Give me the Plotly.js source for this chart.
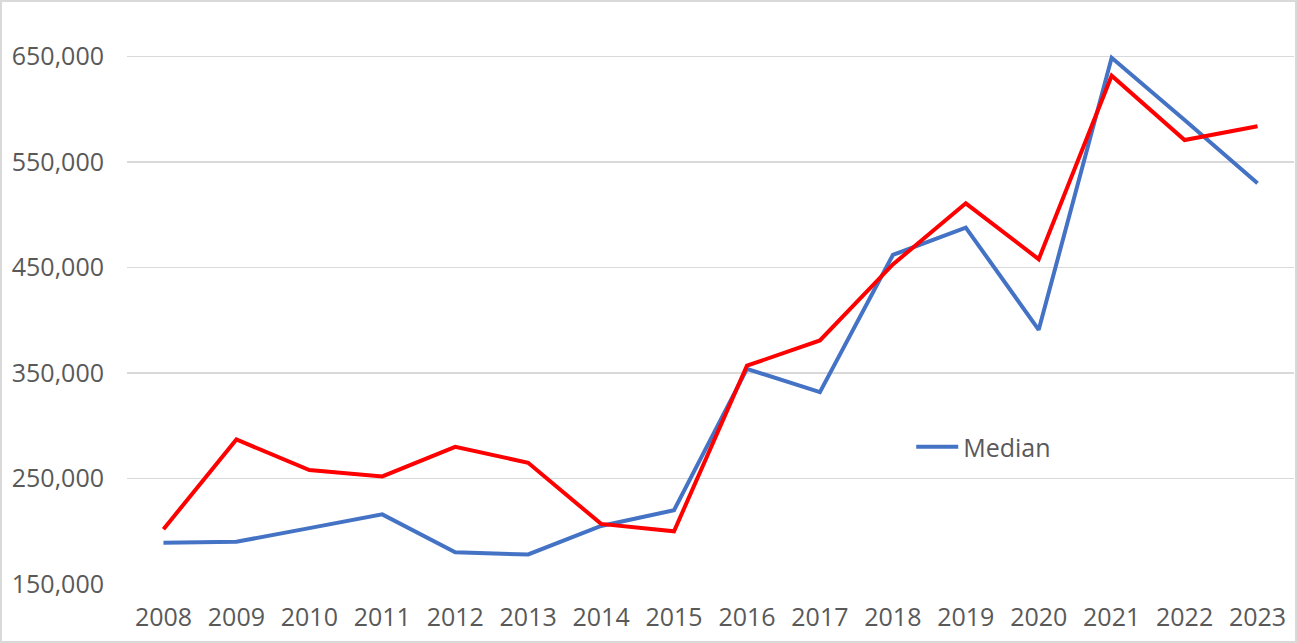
<!DOCTYPE html>
<html>
<head>
<meta charset="utf-8">
<script src="https://cdn.plot.ly/plotly-3.0.1.min.js"></script>
<style>
  html, body { margin: 0; padding: 0; background: #ffffff; }
  #wrap { position: relative; width: 1297px; height: 643px; }
  #chart { width: 1297px; height: 643px; }
  #frame { position: absolute; left: 0; top: 0; width: 1297px; height: 643px; box-sizing: border-box; border: 2px solid #d9d9d9; pointer-events: none; }
</style>
</head>
<body>
<div id="wrap"><div id="chart"></div><div id="frame"></div></div>
<script>
const years = ['2008','2009','2010','2011','2012','2013','2014','2015','2016','2017','2018','2019','2020','2021','2022','2023'];
const median = [189000, 190000, 203000, 216000, 180000, 178000, 205000, 220000, 354000, 332000, 462000, 488000, 391000, 649000, 590000, 530000];
const second = [202000, 287000, 258000, 252000, 280000, 265000, 207000, 200000, 357000, 381000, 453000, 511000, 458000, 632000, 571000, 584000];
const tickVals = [150000, 250000, 350000, 450000, 550000, 650000];

const traces = [
  { x: years, y: median, type: 'scatter', mode: 'lines', name: 'Median',
    line: { color: '#4472C4', width: 4 } },
  { x: years, y: second, type: 'scatter', mode: 'lines', name: 'Series 2', showlegend: false,
    line: { color: '#FF0000', width: 4 } }
];

const layout = {
  width: 1297, height: 643,
  margin: { l: 127, r: 3, t: 4, b: 59 },
  paper_bgcolor: '#ffffff', plot_bgcolor: '#ffffff',
  font: { family: '"Open Sans", sans-serif', size: 25, color: '#595959' },
  showlegend: true,
  legend: { x: 0.672, xanchor: 'left', y: 0.236, yanchor: 'middle', bgcolor: 'rgba(0,0,0,0)',
            itemwidth: 42, font: { size: 25, color: '#595959' } },
  xaxis: { type: 'category', range: [-0.5, 15.5], showgrid: false, zeroline: false,
           showline: false, ticks: '', ticklabelstandoff: 16,
           tickfont: { size: 25, color: '#595959' } },
  yaxis: { range: [150000, 700000], tickvals: tickVals, tickformat: ',d',
           showgrid: true, gridcolor: '#d9d9d9', gridwidth: 1.5, zeroline: false,
           showline: false, ticks: '', ticklabelstandoff: 22,
           tickfont: { size: 25, color: '#595959' } }
};

Plotly.newPlot('chart', traces, layout, { displayModeBar: false, staticPlot: true });
</script>
</body>
</html>
